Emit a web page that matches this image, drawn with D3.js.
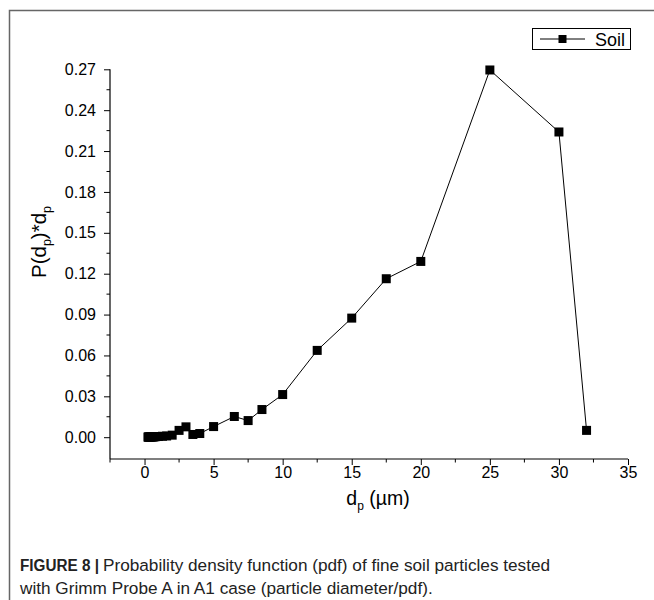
<!DOCTYPE html>
<html>
<head>
<meta charset="utf-8">
<script src="https://cdn.jsdelivr.net/npm/d3@7"></script>
<style>
  body { margin: 0; background: #fff; }
  svg { display: block; font-family: "Liberation Sans", Arial, sans-serif; }
</style>
</head>
<body>
<svg id="chart" width="654" height="600"></svg>
<script>
// Data (particle diameter in µm, pdf*dp)
const diameters = [0.25, 0.28, 0.3, 0.35, 0.4, 0.45, 0.5, 0.58, 0.65, 0.7, 0.8, 1.0, 1.3, 1.6, 2.0,
                   2.5, 3.0, 3.5, 4.0, 5.0, 6.5, 7.5, 8.5, 10, 12.5, 15, 17.5, 20, 25, 30, 32];
const soilValues = [0.0001, 0.0001, 0.0001, 0.0001, 0.0002, 0.0002, 0.0002, 0.0002, 0.0003, 0.0003, 0.0004, 0.0005, 0.0007, 0.0009, 0.0015,
                    0.0050, 0.0076, 0.0020, 0.0027, 0.0078, 0.0152, 0.0122, 0.0203, 0.0313, 0.0637, 0.0874, 0.1163, 0.1290, 0.2695, 0.2240, 0.0050];
const xTicks = [0, 5, 10, 15, 20, 25, 30, 35];
const yTicks = [0.00, 0.03, 0.06, 0.09, 0.12, 0.15, 0.18, 0.21, 0.24, 0.27];
const seriesName = "Soil";

const svg = d3.select("#chart");

// Figure frame (left and top edges)
svg.append("path")
  .attr("d", "M9.5,600 L9.5,10.5 L654,10.5")
  .attr("fill", "none").attr("stroke", "#666").attr("stroke-width", 1.5);

const x = d3.scaleLinear().domain([-2.5, 35]).range([110, 628]);
const y = d3.scaleLinear().domain([-0.016, 0.27]).range([459, 69.3]);

// X axis
const xMinor = d3.range(-2.5, 35, 5);
const xAxisG = svg.append("g").attr("transform", "translate(0,459)");
xAxisG.call(d3.axisBottom(x).tickValues(xTicks).tickSize(6).tickPadding(2).tickFormat(d3.format("d")));
xAxisG.append("g").selectAll("line").data(xMinor).join("line")
  .attr("x1", d => x(d)).attr("x2", d => x(d)).attr("y1", 0).attr("y2", 3.5)
  .attr("stroke", "#000");

// Y axis
const yMinor = d3.range(0.015, 0.27, 0.03);
const yAxisG = svg.append("g").attr("transform", "translate(110,0)");
yAxisG.call(d3.axisLeft(y).tickValues(yTicks).tickSize(6).tickPadding(8).tickFormat(d3.format(".2f")));
yAxisG.append("g").selectAll("line").data(yMinor).join("line")
  .attr("y1", d => y(d)).attr("y2", d => y(d)).attr("x1", 0).attr("x2", -3.5)
  .attr("stroke", "#000");

[xAxisG, yAxisG].forEach(g => {
  g.select(".domain").attr("stroke", "#000").attr("stroke-width", 1.2);
  g.selectAll(".tick line").attr("stroke", "#000").attr("stroke-width", 1);
  g.selectAll(".tick text").attr("font-size", 16).attr("fill", "#000")
    .attr("font-family", "'Liberation Sans', Arial, sans-serif");
});
xAxisG.select(".domain").attr("d", `M${x(-2.5)},0H${x(35)}`);
yAxisG.select(".domain").attr("d", `M0,${y(-0.016)}V${y(0.27)}`);

// Data
const data = diameters.map((d, i) => ({ x: d, y: soilValues[i] }));
svg.append("path").datum(data)
  .attr("d", d3.line().x(d => x(d.x)).y(d => y(d.y)))
  .attr("fill", "none").attr("stroke", "#000").attr("stroke-width", 1);
const ms = 9;
svg.append("g").selectAll("rect").data(data).join("rect")
  .attr("x", d => x(d.x) - ms / 2).attr("y", d => y(d.y) - ms / 2)
  .attr("width", ms).attr("height", ms).attr("fill", "#000");

// Axis titles
const xt = svg.append("text").attr("x", 378).attr("y", 505).attr("text-anchor", "middle")
  .attr("font-size", 19.5).attr("fill", "#000");
xt.append("tspan").text("d");
xt.append("tspan").attr("font-size", 12).attr("dy", 5).text("p");
xt.append("tspan").attr("dy", -5).text(" (µm)");

const yt = svg.append("text").attr("transform", "translate(46,242) rotate(-90)")
  .attr("text-anchor", "middle").attr("font-size", 20.5).attr("fill", "#000");
yt.append("tspan").text("P(d");
yt.append("tspan").attr("font-size", 12.5).attr("dy", 5).text("p");
yt.append("tspan").attr("dy", -5).text(")*d");
yt.append("tspan").attr("font-size", 12.5).attr("dy", 5).text("p");

// Legend
const lg = svg.append("g");
lg.append("rect").attr("x", 532.5).attr("y", 28.5).attr("width", 98).attr("height", 21)
  .attr("fill", "#fff").attr("stroke", "#000").attr("stroke-width", 1);
lg.append("line").attr("x1", 540).attr("x2", 585).attr("y1", 39).attr("y2", 39).attr("stroke", "#000");
lg.append("rect").attr("x", 558.5).attr("y", 35).attr("width", 8).attr("height", 8).attr("fill", "#000");
lg.append("text").attr("x", 595).attr("y", 45.5).attr("font-size", 18).attr("fill", "#000").text(seriesName);

// Caption
svg.append("text").attr("x", 20).attr("y", 571).attr("font-size", 17.2).attr("fill", "#222")
  .attr("font-weight", "bold").attr("textLength", 79).attr("lengthAdjust", "spacingAndGlyphs")
  .text("FIGURE 8 |");
svg.append("text").attr("x", 103).attr("y", 571).attr("font-size", 17.2).attr("fill", "#222")
  .text("Probability density function (pdf) of fine soil particles tested");
svg.append("text").attr("x", 20).attr("y", 594).attr("font-size", 17.2).attr("fill", "#222")
  .text("with Grimm Probe A in A1 case (particle diameter/pdf).");
</script>
</body>
</html>
